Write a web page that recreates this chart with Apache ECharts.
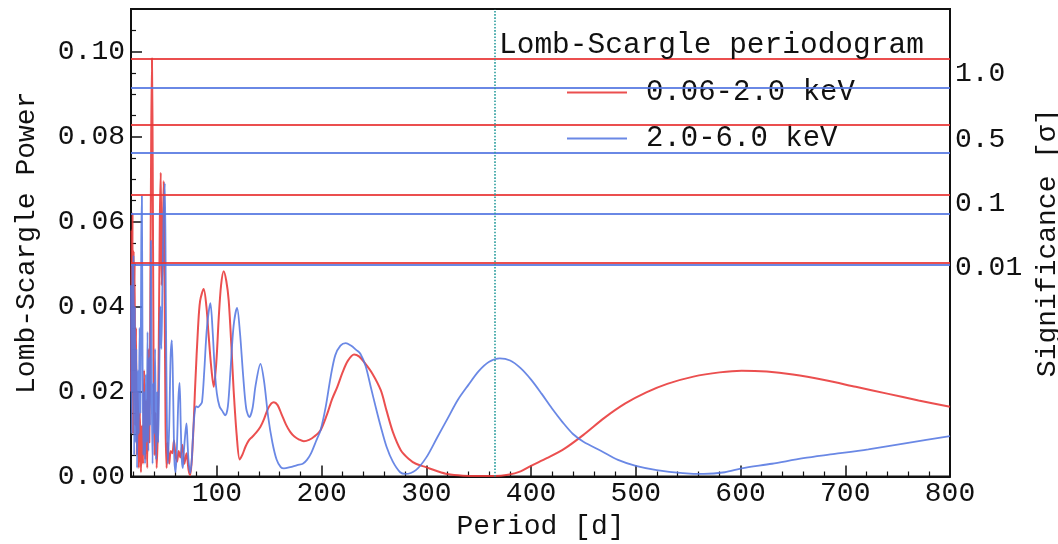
<!DOCTYPE html>
<html>
<head>
<meta charset="utf-8">
<script src="https://cdn.jsdelivr.net/npm/echarts@6/dist/echarts.min.js"></script>
<style>html,body{margin:0;padding:0;background:#fff}#c{width:1058px;height:544px}</style>
</head>
<body>
<div id="c"></div>
<script>
// ---- data ----
const redPeriod = [18,18.5,19,19.5,20,20.5,21,21.5,22,22.8,23.5,24.5,25.5,26.5,27.5,28.5,29.5,30.5,31.5,32.5,33.5,34.5,35.5,36.5,37.3,38,38.7,39.5,40.5,41.5,42.5,43.5,44.5,45.5,46.4,47.3,48,49.2,50.2,51,52,53,54.5,56,57.5,59,60.5,62,63.5,65,67,69,71,73,74.6,77,79.4,82,84,87.4,90,92,94.5,97,99.5,101.8,104,106.5,109,111.3,114,116,119,121.8,124.5,127.3,130.5,133.7,137.5,141.6,145,148.5,152,154.4,158,162,166,170,174,178.5,183,188,193,199,205,210,215,220,225,231,236,241,248.5,256.5,262,268,275.6,283,290,299.5,310,320,335,350,365,378,390,400,415,431.6,450,470,490,510,530,555,580,601,625,650,680,710,740,770,800];
const redPower = [0.020,0.058,0.030,0.062,0.010,0.053,0.040,0.050,0.012,0.035,0.005,0.020,0.002,0.015,0.001,0.012,0.003,0.025,0.004,0.018,0.002,0.030,0.008,0.045,0.080,0.0984,0.075,0.030,0.005,0.015,0.002,0.010,0.030,0.060,0.0715,0.045,0.050,0.0695,0.040,0.012,0.002,0.008,0.003,0.006,0.0055,0.0085,0.005,0.0035,0.006,0.0045,0.0075,0.003,0.0055,0.0015,0.0003,0.008,0.022,0.035,0.0413,0.0441,0.040,0.0336,0.026,0.0211,0.027,0.0375,0.045,0.0483,0.046,0.0414,0.030,0.0203,0.0095,0.004,0.0052,0.007,0.0085,0.0093,0.0103,0.0117,0.0135,0.0158,0.0172,0.0175,0.0168,0.0145,0.0122,0.0105,0.0094,0.0087,0.0083,0.0086,0.0094,0.0109,0.0145,0.0182,0.0211,0.0245,0.0272,0.0287,0.0282,0.0268,0.0242,0.0203,0.0155,0.0105,0.0062,0.0042,0.003,0.0022,0.0013,0.0006,0.0002,0.0001,0.0001,0.0004,0.0012,0.0025,0.0043,0.0065,0.0098,0.0138,0.0172,0.0198,0.0218,0.0235,0.0245,0.0249,0.0247,0.0240,0.0227,0.0211,0.0195,0.0179,0.0164];
const bluePeriod = [18,18.6,19.2,19.8,20.4,21,21.7,22.4,23.1,23.8,24.6,25.4,26.2,27,27.8,28.4,29,29.8,30.6,31.4,32.2,33,33.8,34.6,35.4,36.2,37,37.8,38.6,39.4,40.2,41,42,43,44,45,46,47,48,49,50.3,51.3,52.2,53.2,54.5,55.8,57,58.2,59.4,60.6,62,63.2,64.4,65.5,66.5,67.5,68.5,70,71,72,73,74.6,76,77.5,79,80.5,82,84,85.8,88,90.5,93.8,96,98,100,102.5,105,108,110.5,113,116,119.3,122,125,128,131,134,137,141.6,145,149,153,157,161,164,170,176.7,182,186,190,195,199,204,208.6,213,218,223,228,233,237,242,247,252,256.5,262,268,275,280,290,300,310,320,330,340,350,360,370,380,390,400,410,420,430,440,450,467,483,500,520,545,565,585,601,630,660,690,722,760,800];
const bluePower = [0.045,0.010,0.050,0.020,0.052,0.005,0.040,0.008,0.030,0.002,0.025,0.010,0.035,0.015,0.055,0.066,0.030,0.005,0.020,0.003,0.024,0.008,0.034,0.006,0.028,0.012,0.0555,0.020,0.003,0.022,0.010,0.030,0.004,0.020,0.008,0.025,0.040,0.030,0.045,0.060,0.069,0.040,0.015,0.003,0.012,0.028,0.032,0.020,0.004,0.001,0.008,0.018,0.022,0.012,0.004,0.002,0.006,0.0105,0.0125,0.008,0.0035,0.0008,0.004,0.011,0.0155,0.0165,0.0163,0.0168,0.0175,0.025,0.035,0.0408,0.034,0.025,0.0195,0.0165,0.0155,0.0144,0.0165,0.025,0.0355,0.0397,0.034,0.024,0.016,0.014,0.016,0.0215,0.0265,0.0225,0.014,0.008,0.004,0.0022,0.0019,0.0022,0.0027,0.003,0.0039,0.0055,0.0085,0.0109,0.0165,0.0234,0.0285,0.0308,0.0314,0.0308,0.0298,0.0289,0.026,0.021,0.016,0.0117,0.007,0.0035,0.0010,0.0006,0.0015,0.0045,0.009,0.0135,0.018,0.0215,0.0248,0.027,0.0278,0.0273,0.0255,0.0228,0.0195,0.016,0.0128,0.010,0.0082,0.006,0.0039,0.0025,0.0015,0.0008,0.0006,0.001,0.0019,0.003,0.0043,0.0053,0.0064,0.0079,0.0095];
const redLevels = [0.0984, 0.0828, 0.0664, 0.0504];
const blueLevels = [0.0914, 0.0762, 0.0619, 0.0498];
const sigValues = [0.0949, 0.0793, 0.0641, 0.0492];
const sigLabels = ['1.0', '0.5', '0.1', '0.01'];
const yearPeriod = 365;
const xMajorTicks = [100,200,300,400,500,600,700,800];
const xMinorTicks = [20,40,60,80,120,140,160,180,220,240,260,280,320,340,360,380,420,440,460,480,520,540,560,580,620,640,660,680,720,740,760,780];
const yMajorTicks = [0, 0.02, 0.04, 0.06, 0.08, 0.10];
const yMinorTicks = [0.005,0.01,0.015,0.025,0.03,0.035,0.045,0.05,0.055,0.065,0.07,0.075,0.085,0.09,0.095,0.105];
const legendNames = ['0.06-2.0 keV', '2.0-6.0 keV'];

const RED = 'rgba(232,55,55,0.88)';
const BLUE = 'rgba(85,120,225,0.88)';
const FONT = '"Liberation Mono", "DejaVu Sans Mono", monospace';
const TXT = '#111';

const zip = (a, b) => a.map((v, i) => [v, b[i]]);

const chart = echarts.init(document.getElementById('c'), null, {renderer: 'canvas'});
chart.setOption({
  animation: false,
  backgroundColor: '#fff',
  title: {
    text: 'Lomb-Scargle periodogram',
    left: 494, top: 25,
    textStyle: {fontFamily: FONT, fontSize: 29.5, fontWeight: 'normal', color: TXT}
  },
  legend: {
    data: legendNames,
    orient: 'vertical',
    left: 562, top: 73,
    itemWidth: 60, itemHeight: 2, itemGap: 17,
    icon: 'rect',
    textStyle: {fontFamily: FONT, fontSize: 29, color: TXT, padding: [0, 0, 0, 14]}
  },
  grid: {
    left: 131, top: 9, width: 819, height: 467.5,
    outerBoundsMode: 'none', containLabel: false,
    show: true, borderColor: '#111', borderWidth: 2, backgroundColor: 'transparent'
  },
  xAxis: [{
    type: 'value', min: 18, max: 800,
    name: 'Period [d]', nameLocation: 'middle', nameGap: 34,
    nameTextStyle: {fontFamily: FONT, fontSize: 28, color: TXT},
    axisLine: {show: true, onZero: false, lineStyle: {color: '#111', width: 2}},
    axisTick: {show: true, inside: true, length: 11, customValues: xMajorTicks, lineStyle: {color: '#111', width: 1.5}},
    axisLabel: {customValues: xMajorTicks, fontFamily: FONT, fontSize: 28, color: TXT, margin: 3},
    splitLine: {show: false}
  }, {
    type: 'value', min: 18, max: 800, position: 'bottom',
    axisLine: {show: false},
    axisTick: {show: true, inside: true, length: 5, customValues: xMinorTicks, lineStyle: {color: '#111', width: 1.2}},
    axisLabel: {show: false},
    splitLine: {show: false}
  }],
  yAxis: [{
    type: 'value', min: 0, max: 0.11, position: 'left',
    name: 'Lomb-Scargle Power', nameLocation: 'middle', nameGap: 90, nameRotate: 90,
    nameTextStyle: {fontFamily: FONT, fontSize: 28, color: TXT},
    axisLine: {show: true, onZero: false, lineStyle: {color: '#111', width: 2}},
    axisTick: {show: true, inside: true, length: 11, customValues: yMajorTicks, lineStyle: {color: '#111', width: 1.5}},
    axisLabel: {customValues: yMajorTicks, fontFamily: FONT, fontSize: 28, color: TXT, margin: 6, formatter: v => v.toFixed(2)},
    splitLine: {show: false}
  }, {
    type: 'value', min: 0, max: 0.11, position: 'right',
    name: 'Significance [σ]', nameLocation: 'middle', nameGap: 70, nameRotate: 90,
    nameTextStyle: {fontFamily: FONT, fontSize: 28, color: TXT},
    axisLine: {show: false},
    axisTick: {show: false},
    axisLabel: {customValues: sigValues, fontFamily: FONT, fontSize: 28, color: TXT, margin: 5,
      formatter: v => { const i = sigValues.findIndex(s => Math.abs(s - v) < 1e-6); return i >= 0 ? sigLabels[i] : ''; }},
    splitLine: {show: false}
  }, {
    type: 'value', min: 0, max: 0.11, position: 'left',
    axisLine: {show: false},
    axisTick: {show: true, inside: true, length: 5, customValues: yMinorTicks, lineStyle: {color: '#111', width: 1.2}},
    axisLabel: {show: false},
    splitLine: {show: false}
  }],
  series: [{
    name: legendNames[0], type: 'line', xAxisIndex: 0, yAxisIndex: 0,
    data: zip(redPeriod, redPower), showSymbol: false, symbol: 'none',
    smooth: 0.3,
    lineStyle: {color: RED, width: 2}, itemStyle: {color: RED},
    markLine: {
      silent: true, symbol: 'none', label: {show: false}, precision: 6,
      lineStyle: {color: RED, width: 2, type: 'solid'},
      data: redLevels.map(v => ({yAxis: v}))
    }
  }, {
    name: legendNames[1], type: 'line', xAxisIndex: 0, yAxisIndex: 0,
    data: zip(bluePeriod, bluePower), showSymbol: false, symbol: 'none',
    smooth: 0.3,
    lineStyle: {color: BLUE, width: 1.8}, itemStyle: {color: BLUE},
    markLine: {
      silent: true, symbol: 'none', label: {show: false}, precision: 6,
      lineStyle: {color: BLUE, width: 1.8, type: 'solid'},
      data: blueLevels.map(v => ({yAxis: v})).concat([{xAxis: yearPeriod, lineStyle: {color: '#2a9d9d', width: 1.6, type: 'dotted'}}])
    }
  }]
});
</script>
</body>
</html>
